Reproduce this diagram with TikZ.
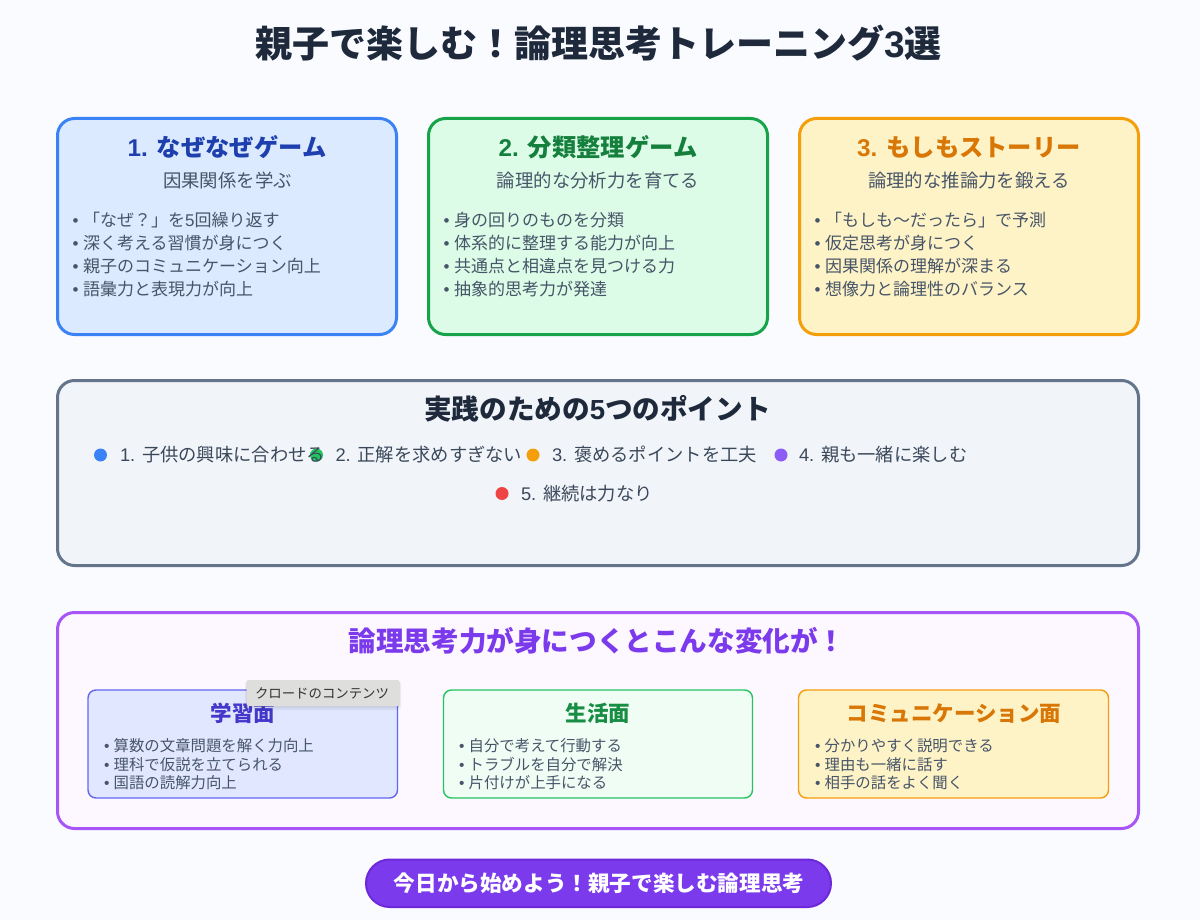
\documentclass[tikz,border=0pt]{standalone}
\usepackage{fontspec}
\setmainfont{Noto Sans CJK JP}
\newfontfamily\latfont{Liberation Sans}
\newcommand{\lat}[1]{{\latfont #1}}
\definecolor{pagebg}{HTML}{F9FBFF}
\definecolor{ink}{HTML}{1E293B}
\definecolor{body}{HTML}{475569}
\definecolor{bluefill}{HTML}{DBEAFE}\definecolor{bluestroke}{HTML}{3B82F6}\definecolor{bluetitle}{HTML}{1E40AF}
\definecolor{greenfill}{HTML}{DCFCE7}\definecolor{greenstroke}{HTML}{16A34A}\definecolor{greentitle}{HTML}{15803D}
\definecolor{amberfill}{HTML}{FEF3C7}\definecolor{amberstroke}{HTML}{F59E0B}\definecolor{ambertitle}{HTML}{D97706}
\definecolor{slatefill}{HTML}{F1F5F9}\definecolor{slatestroke}{HTML}{64748B}
\definecolor{purplefill}{HTML}{FDF8FF}\definecolor{purplestroke}{HTML}{A855F7}\definecolor{purpletitle}{HTML}{7C3AED}
\definecolor{indigofill}{HTML}{E0E7FF}\definecolor{indigostroke}{HTML}{6366F1}\definecolor{indigotitle}{HTML}{4338CA}
\definecolor{mintfill}{HTML}{F0FDF4}\definecolor{mintstroke}{HTML}{22C55E}
\definecolor{btnfill}{HTML}{7C3AED}\definecolor{btnstroke}{HTML}{6D28D9}
\definecolor{tipfill}{HTML}{DEDEDC}\definecolor{tiptext}{HTML}{333333}
\definecolor{dotred}{HTML}{EF4444}\definecolor{dotviolet}{HTML}{8B5CF6}\definecolor{dotgreen}{HTML}{22C55E}
\tikzset{
  panelbox/.style={draw,inner sep=0pt,outer sep=0pt,rounded corners=#1},
  bigpanel/.style={panelbox=17pt,line width=3pt},
  smallpanel/.style={panelbox=8pt,line width=1.4pt},
  txt/.style={inner sep=0pt,outer sep=0pt,anchor=base},
  ltxt/.style={inner sep=0pt,outer sep=0pt,anchor=base west},
  maintitle/.style={txt,font=\fontsize{37}{37}\selectfont\bfseries,text=ink},
  cardtitle/.style={txt,font=\fontsize{24.3}{24}\selectfont\bfseries},
  cardsub/.style={txt,font=\fontsize{18.4}{18}\selectfont,text=body},
  cardline/.style={ltxt,font=\fontsize{17}{17}\selectfont,text=body},
  sechead/.style={txt,font=\fontsize{27.6}{28}\selectfont\bfseries},
  pointtxt/.style={ltxt,font=\fontsize{18.3}{18}\selectfont,text=body!70!ink},
  pointdot/.style={circle,inner sep=0pt,outer sep=0pt,minimum size=13pt},
  subhead/.style={txt,font=\fontsize{21.5}{22}\selectfont\bfseries},
  subline/.style={ltxt,font=\fontsize{15.4}{15}\selectfont,text=body},
}
\newcommand{\panel}[6]{\node[#6,minimum width={#4pt-#2pt},minimum height={#5pt-#3pt}] (#1) at ({(#2+#4)/2},{(#3+#5)/2}) {};}
\begin{document}
\begin{tikzpicture}[x=1pt,y=-1pt]
\useasboundingbox (0,0) rectangle (1200,920);
\fill[pagebg] (0,0) rectangle (1200,920);
\node[maintitle] (title) at (598.5,57.5) {親子で楽しむ！論理思考トレーニング\lat{3}選};

% cards
\panel{cardA}{57.5}{118.5}{396.5}{334.5}{bigpanel,fill=bluefill,draw=bluestroke}
\panel{cardB}{428.5}{118.5}{767.5}{334.5}{bigpanel,fill=greenfill,draw=greenstroke}
\panel{cardC}{799.5}{118.5}{1138.5}{334.5}{bigpanel,fill=amberfill,draw=amberstroke}

\node[cardtitle,text=bluetitle] (cardAt) at (227,156.5) {\lat{1. }なぜなぜゲーム};
\node[cardtitle,text=greentitle] (cardBt) at (598,156.5) {\lat{2. }分類整理ゲーム};
\node[cardtitle,text=ambertitle] (cardCt) at (969,156.5) {\lat{3. }もしもストーリー};
\node[cardsub] (cardAs) at (227.5,187.5) {因果関係を学ぶ};
\node[cardsub] (cardBs) at (598,187.5) {論理的な分析力を育てる};
\node[cardsub] (cardCs) at (969,187.5) {論理的な推論力を鍛える};

\node[cardline] (a1) at (72.5,226.4) {\lat{• }「なぜ？」を\lat{5}回繰り返す};
\node[cardline] (a2) at (72.5,249.4) {\lat{• }深く考える習慣が身につく};
\node[cardline] (a3) at (72.5,272.4) {\lat{• }親子のコミュニケーション向上};
\node[cardline] (a4) at (72.5,295.4) {\lat{• }語彙力と表現力が向上};
\node[cardline] (b1) at (443.5,226.4) {\lat{• }身の回りのものを分類};
\node[cardline] (b2) at (443.5,249.4) {\lat{• }体系的に整理する能力が向上};
\node[cardline] (b3) at (443.5,272.4) {\lat{• }共通点と相違点を見つける力};
\node[cardline] (b4) at (443.5,295.4) {\lat{• }抽象的思考力が発達};
\node[cardline] (c1) at (814.5,226.4) {\lat{• }「もしも〜だったら」で予測};
\node[cardline] (c2) at (814.5,249.4) {\lat{• }仮定思考が身につく};
\node[cardline] (c3) at (814.5,272.4) {\lat{• }因果関係の理解が深まる};
\node[cardline] (c4) at (814.5,295.4) {\lat{• }想像力と論理性のバランス};

% points panel
\panel{points}{57.5}{380.5}{1138.5}{565.5}{bigpanel,fill=slatefill,draw=slatestroke}
\node[sechead,text=ink] (pointsT) at (597.5,419.5) {実践のための\lat{5}つのポイント};
\node[pointdot,fill=bluestroke] (d1) at (100.5,455) {};
\node[pointdot,fill=dotgreen] (d2) at (316.5,455) {};
\node[pointdot,fill=amberstroke] (d3) at (533,455) {};
\node[pointdot,fill=dotviolet] (d4) at (781,455) {};
\node[pointdot,fill=dotred] (d5) at (502,493.5) {};
\node[pointtxt] (p1) at (120,461) {\lat{1. }子供の興味に合わせる};
\node[pointtxt] (p2) at (335.5,461) {\lat{2. }正解を求めすぎない};
\node[pointtxt] (p3) at (552,461) {\lat{3. }褒めるポイントを工夫};
\node[pointtxt] (p4) at (799,461) {\lat{4. }親も一緒に楽しむ};
\node[pointtxt] (p5) at (521,500) {\lat{5. }継続は力なり};

% change panel
\panel{change}{57.5}{612.5}{1138.5}{828.5}{bigpanel,fill=purplefill,draw=purplestroke}
\node[sechead,text=purpletitle] (changeT) at (597,651) {論理思考力が身につくとこんな変化が！};
\panel{subA}{88}{690}{397.5}{798}{smallpanel,fill=indigofill,draw=indigostroke}
\panel{subB}{443.5}{690}{752.5}{798}{smallpanel,fill=mintfill,draw=mintstroke}
\panel{subC}{798.5}{690}{1108.5}{798}{smallpanel,fill=amberfill,draw=amberstroke}
\node[subhead,text=indigotitle] (subAt) at (243,721) {学習面};
\node[subhead,text=greentitle!80!mintstroke] (subBt) at (598,721) {生活面};
\node[subhead,text=ambertitle] (subCt) at (954,721) {コミュニケーション面};
\node[subline] (s1) at (104,751.5) {\lat{• }算数の文章問題を解く力向上};
\node[subline] (s2) at (104,770) {\lat{• }理科で仮説を立てられる};
\node[subline] (s3) at (104,788.5) {\lat{• }国語の読解力向上};
\node[subline] (t1) at (459,751.5) {\lat{• }自分で考えて行動する};
\node[subline] (t2) at (459,770) {\lat{• }トラブルを自分で解決};
\node[subline] (t3) at (459,788.5) {\lat{• }片付けが上手になる};
\node[subline] (u1) at (815,751.5) {\lat{• }分かりやすく説明できる};
\node[subline] (u2) at (815,770) {\lat{• }理由も一緒に話す};
\node[subline] (u3) at (815,788.5) {\lat{• }相手の話をよく聞く};

% tooltip
\fill[black,opacity=.05,rounded corners=3pt] (245,681) rectangle (401,710);
\fill[black,opacity=.05,rounded corners=3pt] (246,681) rectangle (400,708);
\panel{tip}{246.5}{680}{399.5}{706}{fill=tipfill,rounded corners=2pt,inner sep=0pt,outer sep=0pt}
\node[txt,font=\fontsize{13.4}{13}\selectfont,text=tiptext] (tipT) at (322,698) {クロードのコンテンツ};

% button
\panel{btn}{366}{859.5}{831}{907}{panelbox=23.7pt,line width=2pt,fill=btnfill,draw=btnstroke}
\node[txt,font=\fontsize{21.6}{22}\selectfont\bfseries,text=white] (btnT) at (599,891) {今日から始めよう！親子で楽しむ論理思考};
\end{tikzpicture}
\end{document}
